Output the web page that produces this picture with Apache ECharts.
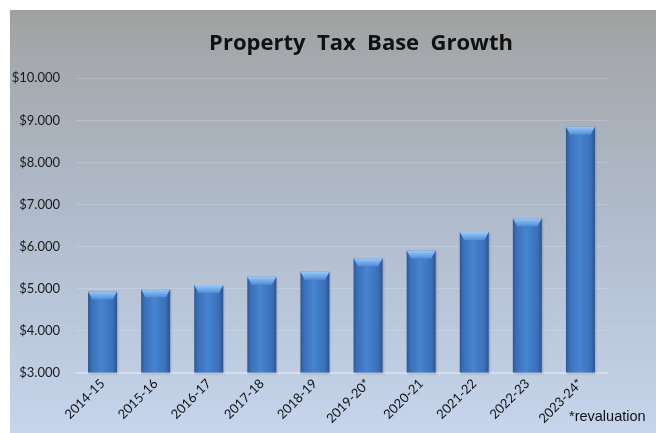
<!DOCTYPE html>
<html>
<head>
<meta charset="utf-8">
<script src="https://cdn.jsdelivr.net/npm/echarts@6/dist/echarts.min.js"></script>
<style>
  html, body { margin: 0; padding: 0; background: #ffffff; }
  #chart { width: 656px; height: 433px; }
</style>
</head>
<body>
<div id="chart"></div>
<script>
// Fiscal years and tax base values (in thousands of dollars, shown as $x.000)
const years = ['2014-15', '2015-16', '2016-17', '2017-18', '2018-19', '2019-20*', '2020-21', '2021-22', '2022-23', '2023-24*'];
const taxBase = [4.93, 4.98, 5.08, 5.28, 5.40, 5.72, 5.90, 6.34, 6.67, 8.85];
const yTicks = { min: 3, max: 10, step: 1 };

const chart = echarts.init(document.getElementById('chart'), null, { renderer: 'canvas' });

const barBody = new echarts.graphic.LinearGradient(0, 0, 1, 0, [
  { offset: 0, color: '#2b5893' },
  { offset: 0.12, color: '#3a6fb7' },
  { offset: 0.45, color: '#4684d1' },
  { offset: 0.85, color: '#3b70b8' },
  { offset: 1, color: '#2a5590' }
]);
const capFill = new echarts.graphic.LinearGradient(0, 0, 0, 1, [
  { offset: 0, color: '#9ccaf8' },
  { offset: 1, color: '#4f8dd8' }
]);

chart.setOption({
  animation: false,
  graphic: [
    {
      type: 'rect',
      left: 10, top: 10,
      shape: { width: 646, height: 423 },
      style: {
        fill: new echarts.graphic.LinearGradient(0, 0, 0, 1, [
          { offset: 0, color: '#a0a0a0' },
          { offset: 0.12, color: '#a5a9ad' },
          { offset: 0.5, color: '#b0bccc' },
          { offset: 1, color: '#c6d5ec' }
        ])
      },
      z: -10
    },
    {
      type: 'text',
      left: 569, top: 409,
      style: {
        text: '*revaluation',
        font: '14.5px "Liberation Sans", Arial, sans-serif',
        fill: '#111111'
      }
    }
  ],
  title: {
    text: 'Property  Tax  Base  Growth',
    left: 356, top: 28,
    textAlign: 'center',
    textStyle: {
      fontFamily: '"Open Sans", sans-serif',
      fontWeight: 'bold',
      fontSize: 22,
      color: '#111111'
    }
  },
  grid: { left: 76, right: 49, top: 78.3, bottom: 60.5, containLabel: false },
  xAxis: {
    type: 'category',
    data: years,
    axisLine: { show: true, lineStyle: { color: '#d6dfeb', width: 2 } },
    axisTick: { show: false },
    axisLabel: {
      rotate: 45,
      interval: 0,
      margin: 9,
      fontFamily: 'Lato, sans-serif',
      fontSize: 13,
      color: '#111111'
    }
  },
  yAxis: {
    type: 'value',
    min: yTicks.min, max: yTicks.max, interval: yTicks.step,
    axisLine: { show: false },
    axisTick: { show: false },
    splitLine: { lineStyle: { color: 'rgba(255,255,255,0.18)', width: 1 } },
    axisLabel: {
      margin: 16,
      fontFamily: 'Lato, sans-serif',
      fontSize: 13,
      color: '#1a1a1a',
      formatter: v => '$' + v + '.000'
    }
  },
  series: [
    {
      type: 'bar',
      data: taxBase,
      barWidth: 29,
      itemStyle: {
        color: barBody,
        shadowBlur: 2,
        shadowColor: 'rgba(40,60,90,0.25)',
        shadowOffsetX: 1,
        shadowOffsetY: 1
      },
      z: 2
    },
    {
      type: 'pictorialBar',
      data: taxBase,
      symbol: 'path://M0,0 L20,0 L17,4 L3,4 Z',
      symbolSize: [29, 8],
      symbolPosition: 'end',
      symbolOffset: [0, 0],
      itemStyle: { color: capFill },
      z: 3
    }
  ]
});
</script>
</body>
</html>
